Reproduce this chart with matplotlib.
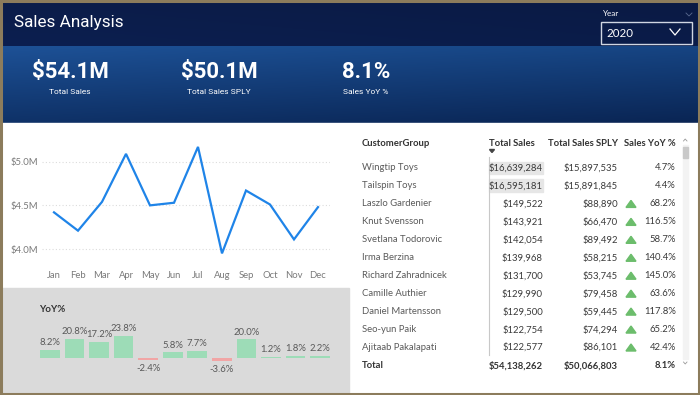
import matplotlib
matplotlib.use('Agg')
import matplotlib.pyplot as plt
import numpy as np
from matplotlib import font_manager as fm
from matplotlib.patches import Rectangle, Polygon

# ---------------- data ----------------
months = ['Jan', 'Feb', 'Mar', 'Apr', 'May', 'Jun', 'Jul', 'Aug', 'Sep', 'Oct', 'Nov', 'Dec']
monthly_sales_m = [4.42, 4.21, 4.54, 5.09, 4.50, 4.53, 5.17, 3.95, 4.67, 4.51, 4.11, 4.48]
y_ticks = [4.0, 4.5, 5.0]
y_tick_labels = ['$4.0M', '$4.5M', '$5.0M']

yoy_pct = [8.2, 20.8, 17.2, 23.8, -2.4, 5.8, 7.7, -3.6, 20.0, 1.2, 1.8, 2.2]

kpi_values = ['$54.1M', '$50.1M', '8.1%']
kpi_labels = ['Total Sales', 'Total Sales SPLY', 'Sales YoY %']

table_headers = ['CustomerGroup', 'Total Sales', 'Total Sales SPLY', 'Sales YoY %']
customers = ['Wingtip Toys', 'Tailspin Toys', 'Laszlo Gardenier', 'Knut Svensson',
             'Svetlana Todorovic', 'Irma Berzina', 'Richard Zahradnicek', 'Camille Authier',
             'Daniel Martensson', 'Seo-yun Paik', 'Ajitaab Pakalapati']
total_sales = [16639284, 16595181, 149522, 143921, 142054, 139968, 131700, 129990,
               129500, 122754, 122577]
total_sales_sply = [15897535, 15891845, 88890, 66470, 89492, 58215, 53745, 79458,
                    59445, 74294, 86101]
sales_yoy = [4.7, 4.4, 68.2, 116.5, 58.7, 140.4, 145.0, 63.6, 117.8, 65.2, 42.4]
total_label = 'Total'
total_sales_sum = 54138262
total_sply_sum = 50066803
total_yoy = 8.1

title = 'Sales Analysis'
slicer_label = 'Year'
slicer_value = '2020'

# ---------------- fonts ----------------
def pick(names, default='DejaVu Sans'):
    for n in names:
        try:
            fm.findfont(fm.FontProperties(family=n), fallback_to_default=False)
            return n
        except Exception:
            pass
    return default

BODY = pick(['Lato', 'Open Sans', 'Noto Sans'])
NARROW = pick(['Roboto', 'Liberation Sans'])
plt.rcParams['font.family'] = [BODY, 'DejaVu Sans']

W, H = 700, 395
fig = plt.figure(figsize=(W / 100, H / 100), dpi=100)


def rect(l, t, r, b):
    return [l / W, 1 - b / H, (r - l) / W, (b - t) / H]


bg = fig.add_axes([0, 0, 1, 1], zorder=0)
bg.axis('off')


def grad(h, w, c_tl, c_tr, c_bl, c_br):
    c = [np.array(matplotlib.colors.to_rgb(x)) for x in (c_tl, c_tr, c_bl, c_br)]
    yy, xx = np.mgrid[0:1:h * 1j, 0:1:w * 1j]
    img = ((1 - yy)[..., None] * ((1 - xx)[..., None] * c[0] + xx[..., None] * c[1]) +
           yy[..., None] * ((1 - xx)[..., None] * c[2] + xx[..., None] * c[3]))
    return img


bg.imshow(grad(20, 100, '#0c1d4a', '#0a1a44', '#0c1f50', '#0a1c49'),
          extent=[0, W, 46, 0], aspect='auto', interpolation='bilinear')
bg.imshow(grad(40, 100, '#1d5196', '#164482', '#0f3268', '#0a2554'),
          extent=[0, W, 123, 46], aspect='auto', interpolation='bilinear')
bg.add_patch(Rectangle((0, 123), W, H - 123, color='white', zorder=0))
bg.add_patch(Rectangle((0, 288), 349, H - 288, color='#dadada', zorder=0.5))
bg.set_xlim(0, W)
bg.set_ylim(H, 0)

# title + slicer
bg.text(14, 22, title, color='white', fontsize=12.3, family=NARROW, va='center', ha='left')
bg.text(603, 14, slicer_label, color='white', fontsize=5.8, va='center', ha='left')
bg.add_patch(Rectangle((601, 22), 91, 22, fill=False, ec='#d0d6e2', lw=1))
bg.text(606, 33.5, slicer_value, color='white', fontsize=8.3, va='center', ha='left')
bg.plot([670, 675, 680], [29, 35, 29], color='white', lw=0.9)
bg.plot([686, 689, 692], [13, 16, 13], color='#5a6a90', lw=0.6)

# KPIs
kpi_x = [70, 219, 366]
for x, v, lab in zip(kpi_x, kpi_values, kpi_labels):
    bg.text(x, 72, v, color='white', fontsize=16, family=NARROW, weight='bold',
            ha='center', va='center')
    bg.text(x, 92.5, lab, color='white', fontsize=6.0, family=NARROW,
            ha='center', va='center')

# ---------------- line chart ----------------
la = fig.add_axes(rect(42, 140, 330, 258), zorder=2)
la.patch.set_alpha(0)
la.plot(range(len(months)), monthly_sales_m, color='#1f84e8', lw=1.6,
        solid_joinstyle='miter')
la.set_xlim(-0.5, 11.5)
la.set_ylim(3.897, 5.249)
la.set_xticks(range(len(months)), months)
la.set_yticks(y_ticks, y_tick_labels)
la.grid(axis='y', color='#dcdcdc', ls=(0, (1, 2)), lw=0.8)
for s in la.spines.values():
    s.set_visible(False)
la.tick_params(length=0, labelsize=6.8, labelcolor='#7a7a7a')
la.tick_params(axis='y', pad=3)
la.tick_params(axis='x', pad=9.5)

# ---------------- YoY bar chart ----------------
ba = fig.add_axes(rect(37.75, 320, 332.25, 380), zorder=2)
ba.patch.set_alpha(0)
cols = ['#9ddcb7' if v >= 0 else '#f1a5a5' for v in yoy_pct]
ba.bar(range(len(yoy_pct)), yoy_pct, width=0.8, color=cols)
for i, v in enumerate(yoy_pct):
    ba.annotate(f'{v:.1f}%', (i, v), xytext=(0, 2 if v >= 0 else -3),
                textcoords='offset points', ha='center',
                va='bottom' if v >= 0 else 'top', fontsize=6.8, color='#595959')
ba.set_xlim(-0.5, 11.5)
ba.set_ylim(-24.5, 41.4)
ba.axis('off')
bg.text(39, 310, 'YoY%', fontsize=7, color='#333333', weight='bold',
        ha='left', va='center')

# ---------------- table ----------------
hdr_y = 143
row_y0, row_dy = 168, 17.95
x_name, x_ts, x_sply, x_tri, x_yoy = 362, 543, 618, 631, 676
hcol = '#333333'
FS = 6.8
bg.text(x_name, hdr_y, table_headers[0], fontsize=FS, weight='bold', color=hcol,
        ha='left', va='center')
bg.text(535, hdr_y, table_headers[1], fontsize=FS, weight='bold', color=hcol,
        ha='right', va='center')
bg.text(x_sply, hdr_y, table_headers[2], fontsize=FS, weight='bold', color=hcol,
        ha='right', va='center')
bg.text(x_yoy, hdr_y, table_headers[3], fontsize=FS, weight='bold', color=hcol,
        ha='right', va='center')
bg.add_patch(Polygon([[489.5, 149.5], [494.5, 149.5], [492, 152.5]], closed=True,
                     color='#444444'))
bg.plot([488.5, 488.5], [157, 355], color='#c8c8c8', lw=0.8)

max_ts = max(total_sales)
for i, (n, ts, sp, yy) in enumerate(zip(customers, total_sales, total_sales_sply, sales_yoy)):
    y = row_y0 + i * row_dy
    if ts > 1_000_000:
        bg.add_patch(Rectangle((489, y - 6.5), 54 * ts / max_ts, 12.5,
                               color='#e6e6e6', zorder=0.8))
    bg.text(x_name, y, n, fontsize=FS, color='#5a5a5a', ha='left', va='center')
    bg.text(x_ts, y, f'${ts:,.0f}', fontsize=FS, color='#3a3a3a', ha='right', va='center')
    bg.text(x_sply, y, f'${sp:,.0f}', fontsize=FS, color='#3a3a3a', ha='right', va='center')
    bg.text(x_yoy, y, f'{yy:.1f}%', fontsize=FS, color='#3a3a3a', ha='right', va='center')
    if yy > 10:
        bg.add_patch(Polygon([[x_tri - 5, y + 3.5], [x_tri + 5, y + 3.5], [x_tri, y - 3.5]],
                             closed=True, color='#6cbd6c', zorder=3))

ty = 366
bg.text(x_name, ty, total_label, fontsize=FS, weight='bold', color=hcol, ha='left', va='center')
bg.text(x_ts, ty, f'${total_sales_sum:,.0f}', fontsize=FS, weight='bold', color=hcol,
        ha='right', va='center')
bg.text(x_sply, ty, f'${total_sply_sum:,.0f}', fontsize=FS, weight='bold', color=hcol,
        ha='right', va='center')
bg.text(x_yoy, ty, f'{total_yoy:.1f}%', fontsize=FS, weight='bold', color=hcol,
        ha='right', va='center')

# scrollbar
bg.add_patch(Rectangle((683, 145), 4.5, 214, color='#f3f3f3', zorder=0.8))
bg.add_patch(Rectangle((683, 147), 4.5, 11, color='#c9c9c9', zorder=0.9))
bg.plot([683.5, 685.2, 687], [141, 139, 141], color='#999999', lw=0.6)
bg.plot([683.5, 685.2, 687], [362, 364, 362], color='#999999', lw=0.6)

# outer frame
bg.add_patch(Rectangle((1, 1), W - 2, H - 2, fill=False, ec='#8c7c5c', lw=2.2, zorder=5))

fig.savefig('out.png', dpi=100)
